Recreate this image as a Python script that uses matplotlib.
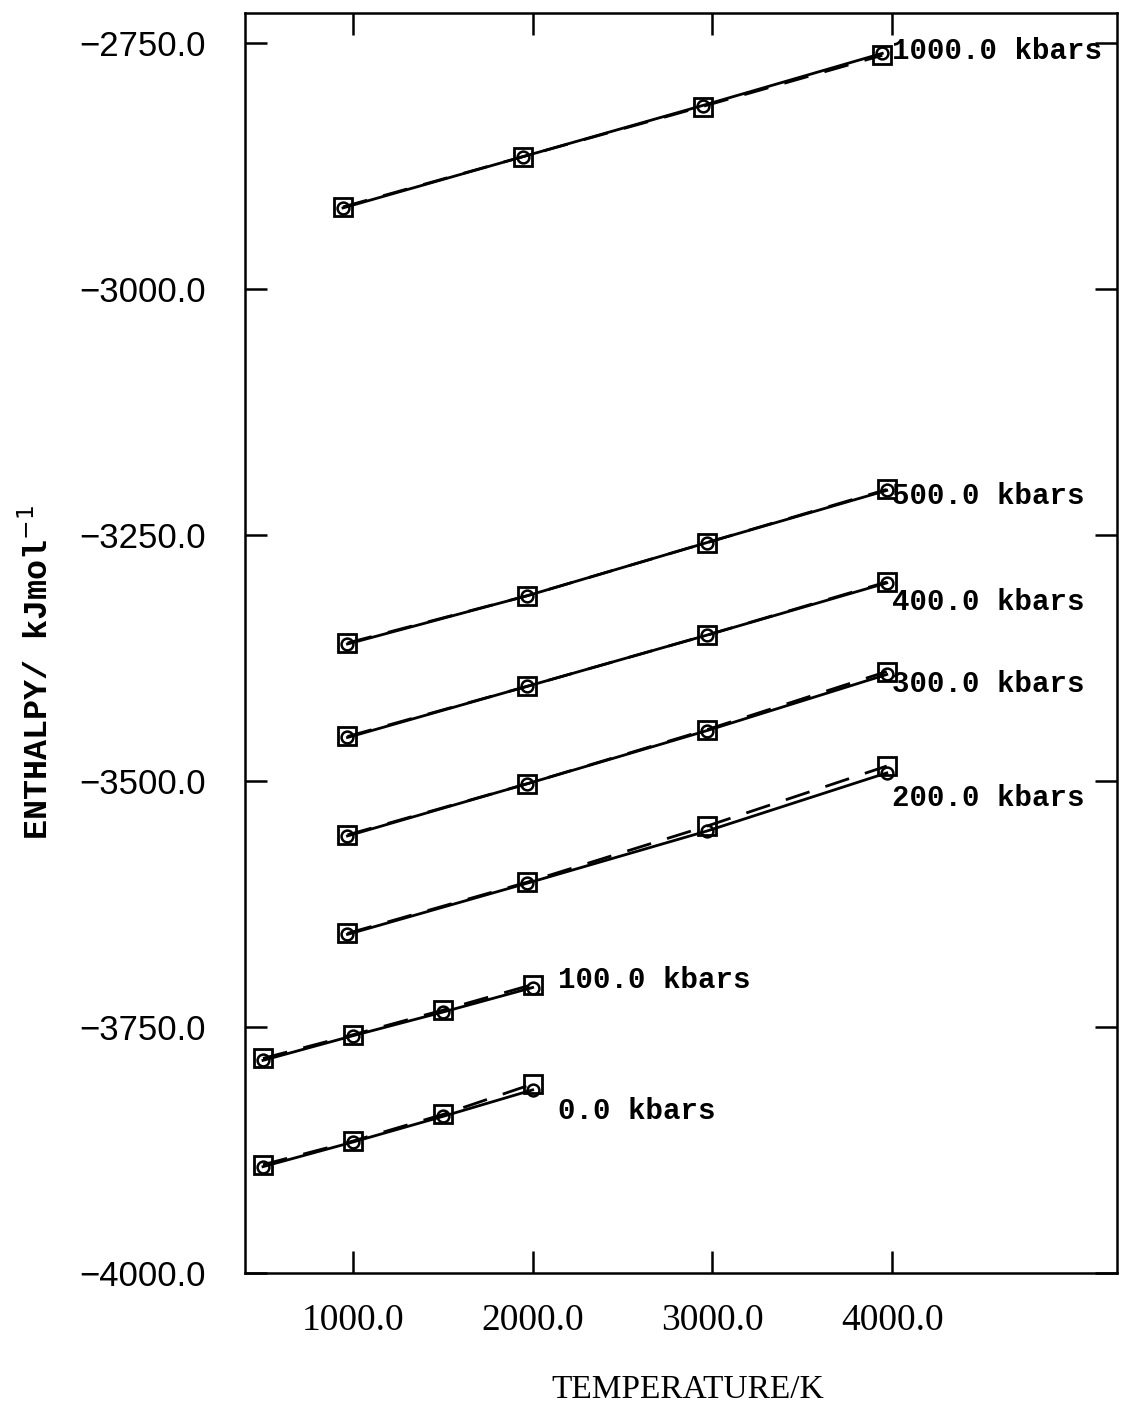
import numpy as np
import matplotlib.pyplot as plt
from matplotlib.ticker import FuncFormatter

# temperatures (K) as they sit on the page
temps_1000 = [945, 1945, 2945, 3945]
temps_mid = [970, 1970, 2970, 3970]
temps_low = [500, 1000, 1500, 2000]

# enthalpy kJ/mol, squares (dashed) and circles (solid)
sq_1000 = [-2917, -2866, -2815, -2763]
ci_1000 = [-2918, -2866, -2814, -2761]
sq_500 = [-3360, -3312, -3258, -3204]
ci_500 = [-3361, -3312, -3258, -3205]
sq_400 = [-3455, -3404, -3352, -3298]
ci_400 = [-3456, -3404, -3352, -3299]
sq_300 = [-3555, -3503, -3448, -3389]
ci_300 = [-3556, -3503, -3449, -3392]
sq_200 = [-3655, -3603, -3546, -3485]
ci_200 = [-3656, -3604, -3551, -3492]
sq_100 = [-3782, -3758, -3733, -3707]
ci_100 = [-3784, -3759, -3735, -3710]
sq_0 = [-3890, -3866, -3839, -3808]
ci_0 = [-3892, -3867, -3841, -3814]

labels = ['1000.0 kbars', '500.0 kbars', '400.0 kbars', '300.0 kbars',
          '200.0 kbars', '100.0 kbars', '0.0 kbars']
label_x = [4000, 4000, 4000, 4000, 4000, 2140, 2140]
label_y = [-2759, -3211, -3318, -3402, -3517, -3702, -3835]

series = [(temps_1000, sq_1000, ci_1000), (temps_mid, sq_500, ci_500),
          (temps_mid, sq_400, ci_400), (temps_mid, sq_300, ci_300),
          (temps_mid, sq_200, ci_200), (temps_low, sq_100, ci_100),
          (temps_low, sq_0, ci_0)]

fig = plt.figure(figsize=(11.27, 14.13), dpi=100)
ax = fig.add_axes([0.2174, 0.0991, 0.991 - 0.2174, 0.9908 - 0.0991])

for t, sq, ci in series:
    ax.plot(t, sq, color='black', lw=2.0, ls=(0, (9, 6)), marker='s',
            ms=13.5, mfc='none', mec='black', mew=2.0)
    ax.plot(t, ci, color='black', lw=2.0, ls='-', marker='o',
            ms=8.5, mfc='none', mec='black', mew=1.8)

for i in range(len(labels)):
    ax.text(label_x[i], label_y[i], labels[i], fontsize=21,
            family='Liberation Mono', weight='bold', va='center', ha='left')

ax.set_xlim(400, 5250)
ax.set_ylim(-4000, -2720)
ax.set_xticks([1000, 2000, 3000, 4000])
ax.set_yticks([-4000, -3750, -3500, -3250, -3000, -2750])
ax.xaxis.set_major_formatter(FuncFormatter(lambda v, p: '%.1f' % v))
ax.yaxis.set_major_formatter(FuncFormatter(lambda v, p: ('%.1f' % v).replace('-', '\u2212')))
ax.tick_params(direction='in', length=16, width=1.8, top=True, right=True)
ax.tick_params(axis='y', pad=28, labelsize=25)
ax.tick_params(axis='x', pad=22, labelsize=27)
for lab in ax.get_yticklabels():
    lab.set_family('Liberation Sans')
for lab in ax.get_xticklabels():
    lab.set_family('Liberation Serif')
for s in ax.spines.values():
    s.set_linewidth(1.8)

fig.text(688 / 1127, 1 - 1390 / 1413, 'TEMPERATURE/K', fontsize=24,
         family='Liberation Serif', ha='center', va='center')
fig.text(38 / 1127, 1 - 672 / 1413, 'ENTHALPY/ kJmol$^{-1}$', fontsize=24,
         family='Liberation Mono', weight='bold', rotation=90,
         ha='center', va='center')

fig.savefig('out.png', dpi=100)
